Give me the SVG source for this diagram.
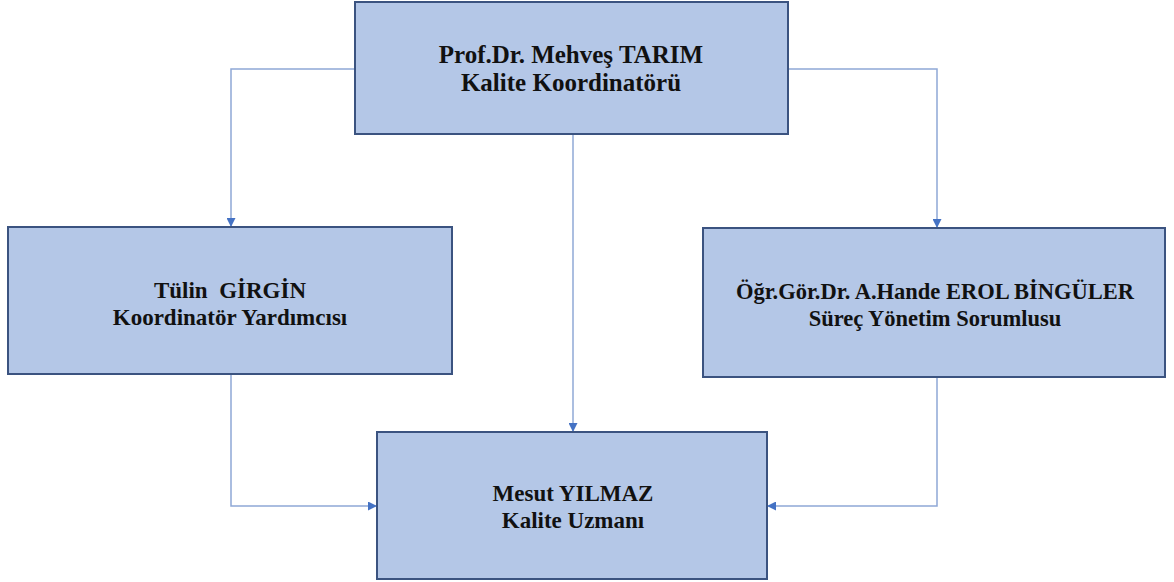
<svg xmlns="http://www.w3.org/2000/svg" width="1174" height="582" viewBox="0 0 1174 582">
<style>
.box{fill:#b4c7e7;stroke:#3b5380;stroke-width:2}
.t{font-family:"Liberation Serif","Times New Roman",serif;font-weight:bold;font-size:23px;fill:#111;text-anchor:middle;white-space:pre}
.big{font-size:25px}
.sm{font-size:22.5px}
.c{fill:none;stroke:#8fa8d6;stroke-width:1.5}
</style>
<defs>
<marker id="ah" viewBox="0 0 10 10" refX="10" refY="5" markerWidth="9" markerHeight="9" markerUnits="userSpaceOnUse" orient="auto">
<path d="M0,0 L10,5 L0,10 Z" fill="#4472c4"/>
</marker>
</defs>
<rect width="1174" height="582" fill="#fff"/>
<g id="connectors">
<path class="c" d="M355,69 H231 V227" marker-end="url(#ah)"/>
<path class="c" d="M788,69 H937 V228" marker-end="url(#ah)"/>
<path class="c" d="M573,134 V432" marker-end="url(#ah)"/>
<path class="c" d="M231,374 V506 H377" marker-end="url(#ah)"/>
<path class="c" d="M937,377 V506 H767" marker-end="url(#ah)"/>
</g>
<g id="n1">
<rect class="box" x="355" y="2" width="433" height="132"/>
<text class="t big" x="571" y="63">Prof.Dr. Mehveş TARIM</text>
<text class="t big" x="571" y="91">Kalite Koordinatörü</text>
</g>
<g id="n2">
<rect class="box" x="8" y="227" width="444" height="147"/>
<text class="t" x="230" y="298">Tülin  GİRGİN</text>
<text class="t" x="230" y="325">Koordinatör Yardımcısı</text>
</g>
<g id="n3">
<rect class="box" x="703" y="228" width="462" height="149"/>
<text class="t sm" x="935" y="299">Öğr.Gör.Dr. A.Hande EROL BİNGÜLER</text>
<text class="t sm" x="935" y="326">Süreç Yönetim Sorumlusu</text>
</g>
<g id="n4">
<rect class="box" x="377" y="432" width="390" height="147"/>
<text class="t" x="573" y="501">Mesut YILMAZ</text>
<text class="t" x="573" y="528">Kalite Uzmanı</text>
</g>
</svg>
